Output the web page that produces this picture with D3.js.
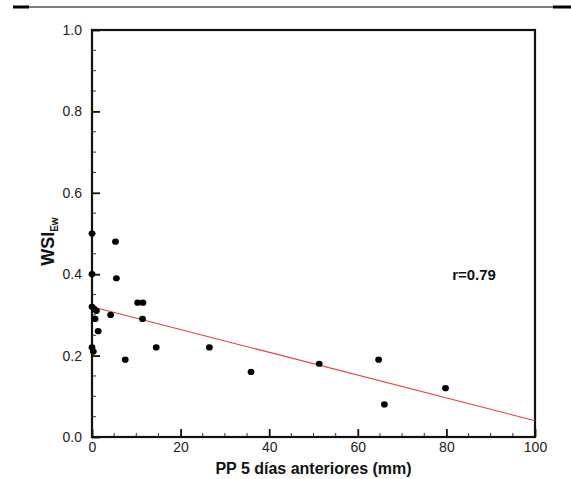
<!DOCTYPE html>
<html><head><meta charset="utf-8">
<script src="https://cdn.jsdelivr.net/npm/d3@7"></script>
<style>body{margin:0;background:#fff;} svg{display:block;font-family:"Liberation Sans",Arial,sans-serif;}</style>
</head><body>
<svg id="c" width="571" height="479"></svg>
<script>
const ppValues  = [0, 5.3, 0, 5.5, 10.3, 11.5, 0, 0.5, 1, 4.2, 11.4, 0.7, 1.4, 0, 0.3, 14.5, 7.5, 26.5, 35.9, 51.3, 64.7, 79.8, 66];
const wsiValues = [0.50, 0.48, 0.40, 0.39, 0.33, 0.33, 0.32, 0.315, 0.31, 0.30, 0.29, 0.29, 0.26, 0.22, 0.21, 0.22, 0.19, 0.22, 0.16, 0.18, 0.19, 0.12, 0.08];
const fitX = [0, 100];
const fitY = [0.32, 0.04];
const xTicks = [0, 20, 40, 60, 80, 100];
const yTicks = [0.0, 0.2, 0.4, 0.6, 0.8, 1.0];
const rLabel = "r=0.79";

const svg = d3.select("#c");
const L = 92, R = 535, T = 30, B = 437;
const x = d3.scaleLinear().domain([0, 100]).range([L, R]);
const y = d3.scaleLinear().domain([0, 1]).range([B, T]);

// top rule
svg.append("line").attr("x1", 13).attr("x2", 571).attr("y1", 7).attr("y2", 7).attr("stroke", "#000").attr("stroke-width", 1.2);
svg.append("line").attr("x1", 13).attr("x2", 29).attr("y1", 7).attr("y2", 7).attr("stroke", "#000").attr("stroke-width", 3);
svg.append("line").attr("x1", 553).attr("x2", 571).attr("y1", 7).attr("y2", 7).attr("stroke", "#000").attr("stroke-width", 3);

// minor ticks
const g = svg.append("g");
const xMinor = d3.range(0, 101, 5).filter(v => v % 20 !== 0);
const yMinor = d3.range(0, 21).map(i => i * 0.05).filter((v, i) => i % 4 !== 0);
g.selectAll(".xm").data(xMinor).join("line").attr("x1", d => x(d)).attr("x2", d => x(d)).attr("y1", B).attr("y2", B - 4).attr("stroke", "#333").attr("stroke-width", 1);
g.selectAll(".ym").data(yMinor).join("line").attr("y1", d => y(d)).attr("y2", d => y(d)).attr("x1", L).attr("x2", L + 4).attr("stroke", "#333").attr("stroke-width", 1);

// axes with inward major ticks
const xAxis = d3.axisBottom(x).tickValues(xTicks).tickFormat(d3.format("d")).tickSizeInner(-8).tickSizeOuter(0).tickPadding(12);
const yAxis = d3.axisLeft(y).tickValues(yTicks).tickFormat(d3.format(".1f")).tickSizeInner(-8).tickSizeOuter(0).tickPadding(10);
const gx = svg.append("g").attr("transform", `translate(0,${B})`).call(xAxis);
const gy = svg.append("g").attr("transform", `translate(${L},0)`).call(yAxis);
[gx, gy].forEach(a => {
  a.select(".domain").remove();
  a.selectAll(".tick line").attr("stroke", "#111").attr("stroke-width", 1.8);
  a.selectAll("text").attr("font-size", 14).attr("fill", "#222").attr("font-family", "Liberation Sans, Arial, sans-serif");
});
gx.selectAll("text").attr("dy", "0.2em");

// frame
svg.append("rect").attr("x", L).attr("y", T).attr("width", R - L).attr("height", B - T)
  .attr("fill", "none").attr("stroke", "#111").attr("stroke-width", 2.2);

// fit line
svg.append("line").attr("x1", x(fitX[0])).attr("y1", y(fitY[0])).attr("x2", x(fitX[1])).attr("y2", y(fitY[1]))
  .attr("stroke", "#e8393a").attr("stroke-width", 1.1);

// points
svg.selectAll(".pt").data(ppValues.map((v, i) => [v, wsiValues[i]])).join("ellipse")
  .attr("cx", d => x(d[0])).attr("cy", d => y(d[1])).attr("rx", 3.4).attr("ry", 3.1).attr("fill", "#000");

// r label
svg.append("text").attr("x", x(81.3)).attr("y", y(0.385)).attr("font-size", 15).attr("font-weight", "bold")
  .attr("fill", "#111").text(rLabel);

// x title
svg.append("text").attr("x", (L + R) / 2).attr("y", 474).attr("text-anchor", "middle")
  .attr("font-size", 16).attr("font-weight", "bold").attr("fill", "#111").text("PP 5 días anteriores (mm)");

// y title
const yt = svg.append("text").attr("transform", `translate(54,${y(0.48)}) rotate(-90)`).attr("text-anchor", "middle")
  .attr("font-weight", "bold").attr("fill", "#111");
yt.append("tspan").attr("font-size", 18).text("WSI");
yt.append("tspan").attr("font-size", 10).attr("dy", 4).text("Ew");
</script>
</body></html>
